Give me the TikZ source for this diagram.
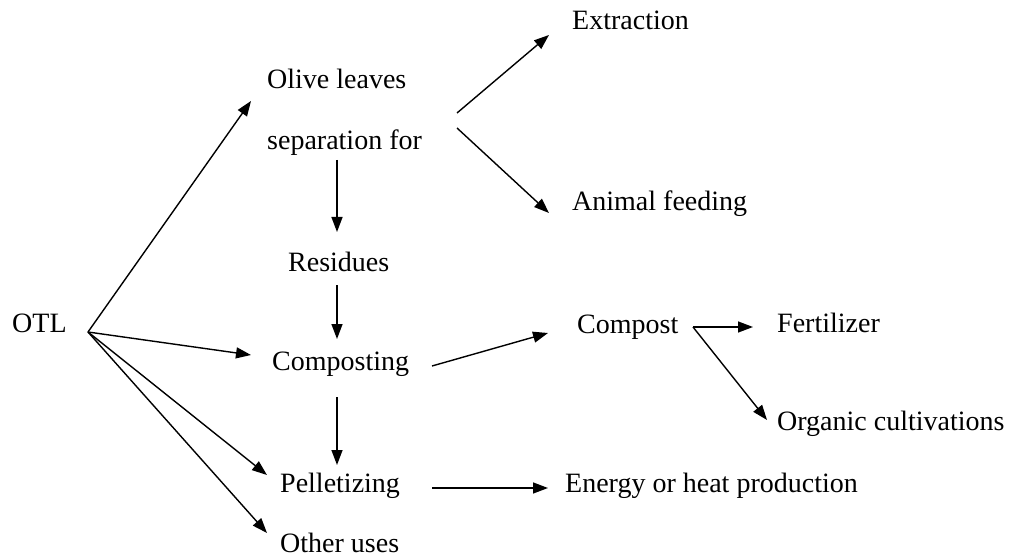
\documentclass[tikz,border=0pt]{standalone}
\usepackage{fontspec}
\setmainfont{Liberation Serif}
\usetikzlibrary{arrows.meta}
\begin{document}
\begin{tikzpicture}[x=1pt,y=-1pt,
  lbl/.style={anchor=base west,inner sep=0pt,font=\fontsize{28}{34}\selectfont},
  arr/.style={line width=1.4pt,-{Triangle[length=15pt,width=11pt]}},
  plain/.style={line width=1.4pt}]
\useasboundingbox (0,0) rectangle (1013,559);
% text nodes
\node[lbl] (otl) at (12,332) {OTL};
\node[lbl] (olive) at (267,89) {Olive leaves};
\node[lbl] (sep) at (267,150) {separation for};
\node[lbl] (extr) at (572,30) {Extraction};
\node[lbl] (anim) at (572,211) {Animal feeding};
\node[lbl] (resid) at (288,272) {Residues};
\node[lbl] (compg) at (272,370) {Composting};
\node[lbl] (compost) at (577,333) {Compost};
\node[lbl] (fert) at (777,332) {Fertilizer};
\node[lbl] (organic) at (777,430) {Organic cultivations};
\node[lbl] (pellet) at (280,492) {Pelletizing};
\node[lbl] (energy) at (565,492) {Energy or heat production};
\node[lbl] (other) at (280,552) {Other uses};
% connector end points
\coordinate (otlO) at (88,332);
\coordinate (oliveI) at (251,101);
\coordinate (compgI) at (251,355);
\coordinate (pelletI) at (267,475);
\coordinate (otherI) at (267,533);
\coordinate (sepO1) at (457,113);
\coordinate (sepO2) at (457,128);
\coordinate (extrI) at (549,35);
\coordinate (animI) at (549,213);
\coordinate (sepO3) at (337,160);
\coordinate (residI) at (337,232);
\coordinate (residO) at (337,285);
\coordinate (compgI2) at (337,339);
\coordinate (compgO) at (337,397);
\coordinate (pelletI2) at (337,465);
\coordinate (compgO2) at (432,366);
\coordinate (compostI) at (548,333);
\coordinate (compostO) at (693,327);
\coordinate (fertI) at (753,327);
\coordinate (organicI) at (767,420);
\coordinate (pelletO) at (432,488);
\coordinate (energyI) at (548,488);
% connectors
\draw[arr] (otlO) -- (oliveI);
\draw[arr] (otlO) -- (compgI);
\draw[arr] (otlO) -- (pelletI);
\draw[arr] (otlO) -- (otherI);
\draw[arr] (sepO1) -- (extrI);
\draw[arr] (sepO2) -- (animI);
\draw[arr] (sepO3) -- (residI);
\draw[arr] (residO) -- (compgI2);
\draw[arr] (compgO) -- (pelletI2);
\draw[arr] (compgO2) -- (compostI);
\draw[arr] (compostO) -- (fertI);
\draw[arr] (compostO) -- (organicI);
\draw[arr] (pelletO) -- (energyI);
\end{tikzpicture}
\end{document}
